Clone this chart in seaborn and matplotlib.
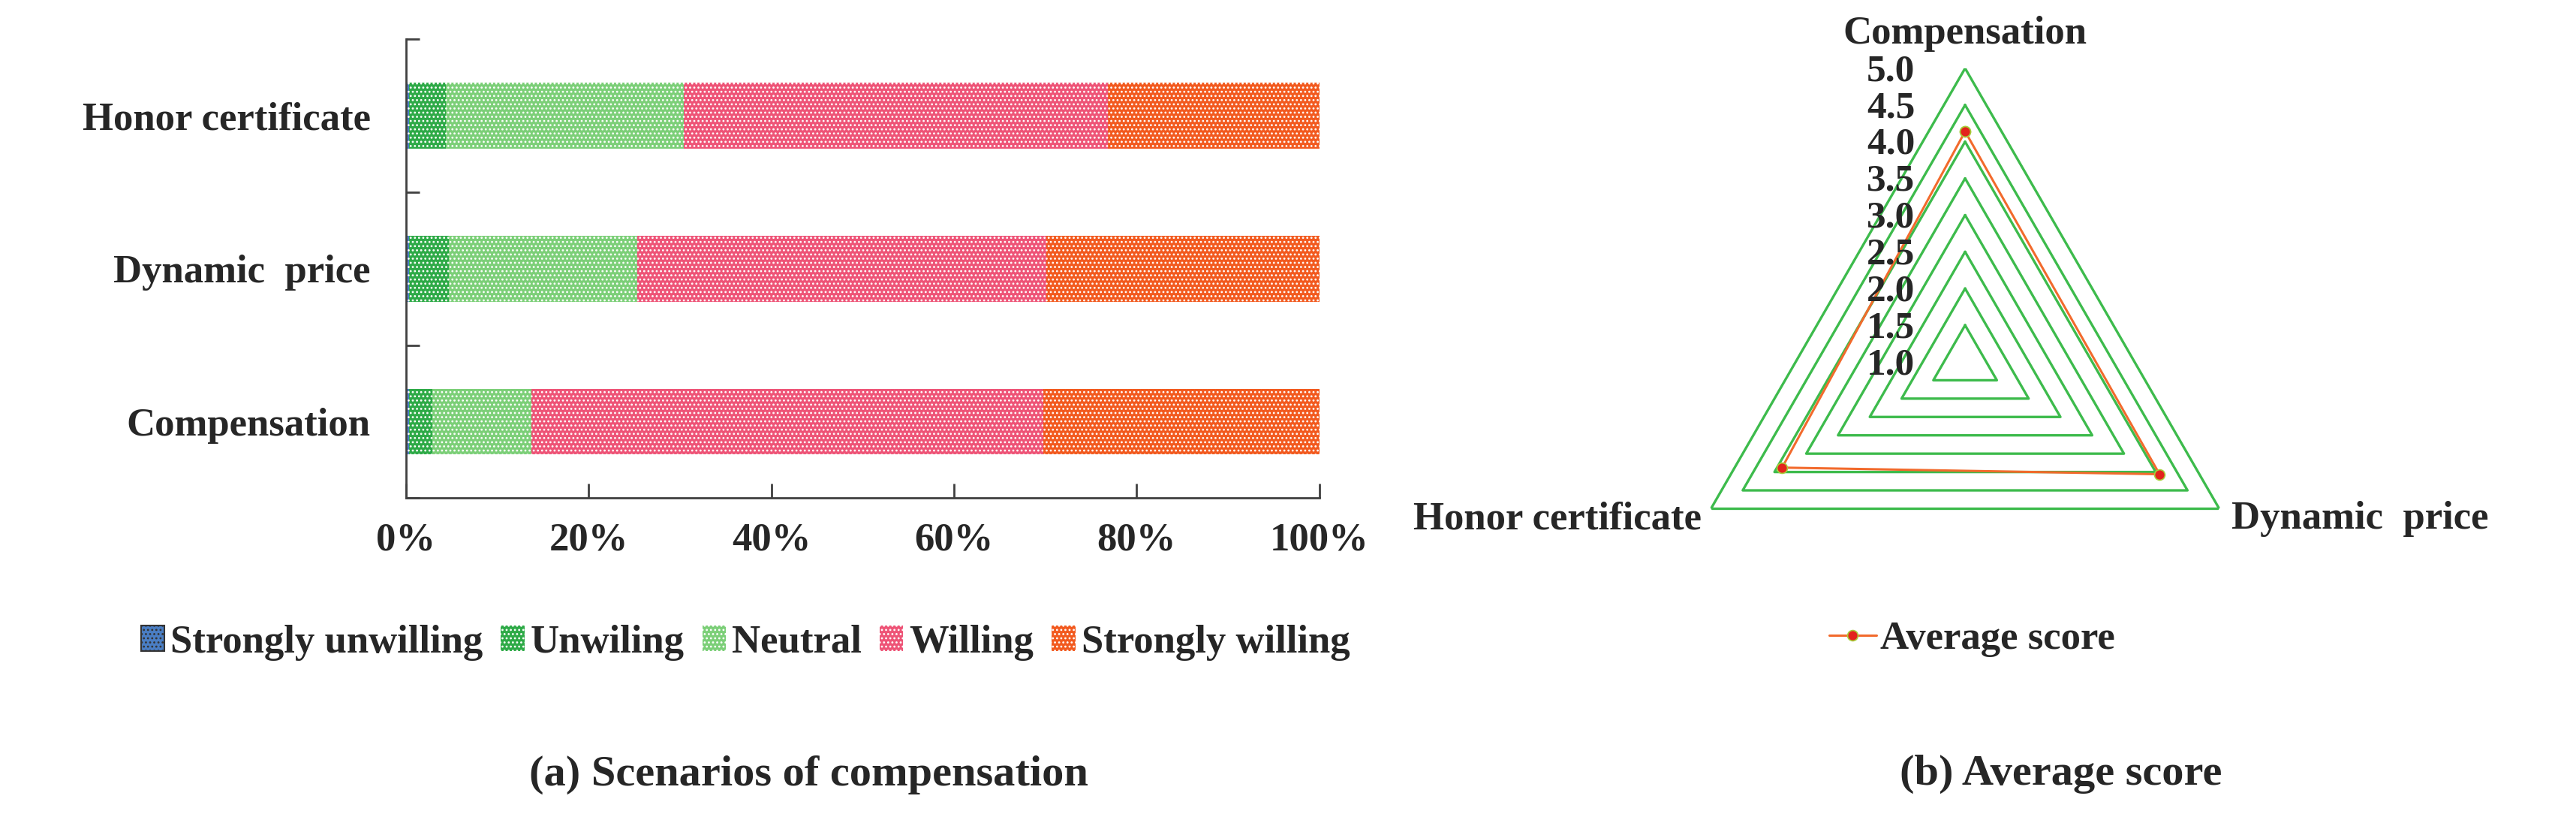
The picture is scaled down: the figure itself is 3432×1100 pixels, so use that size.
# %%
import numpy as np
import pandas as pd
import matplotlib
matplotlib.use("Agg")
import matplotlib.pyplot as plt
from matplotlib.patches import Patch
from matplotlib.lines import Line2D
from matplotlib.ticker import PercentFormatter
import seaborn as sns

# %%
# (a) share of answers for each scenario, in %
scenarios = ["Honor certificate", "Dynamic  price", "Compensation"]
levels = ["Strongly unwilling", "Unwiling", "Neutral", "Willing", "Strongly willing"]
strongly_unwilling = [0.3, 0.3, 0.3]
unwilling = [4.1, 4.4, 2.6]
neutral = [26.0, 20.6, 10.8]
willing = [46.4, 44.8, 56.1]
strongly_willing = [23.2, 29.9, 30.2]
level_colors = ["#4A7EC4", "#2EAA47", "#7CCF78", "#EE5477", "#F25A1F"]
x_ticks = [0, 20, 40, 60, 80, 100]

# (b) average score for each scenario
radar_labels = ["Compensation", "Dynamic  price", "Honor certificate"]
avg_score = [4.14, 4.06, 3.88]
ring_levels = [1.5, 2.0, 2.5, 3.0, 3.5, 4.0, 4.5, 5.0]
r_tick_labels = ["1.0", "1.5", "2.0", "2.5", "3.0", "3.5", "4.0", "4.5", "5.0"]

# %%
sns.set_theme(style="ticks")
plt.rcParams["font.family"] = ["Liberation Serif", "DejaVu Serif"]
plt.rcParams["font.weight"] = "bold"
plt.rcParams["hatch.linewidth"] = 1.2

df = pd.DataFrame({
    "scenario": scenarios,
    levels[0]: strongly_unwilling,
    levels[1]: unwilling,
    levels[2]: neutral,
    levels[3]: willing,
    levels[4]: strongly_willing,
})
cum = df[levels].cumsum(axis=1)
cum["scenario"] = df["scenario"]

fig = plt.figure(figsize=(34.32, 11), dpi=100)

# %%
# stacked bars: draw cumulative totals from the right end back to the left
ax = fig.add_axes([0.1576, 0.397, 0.3546, 0.5555])
for lev, col in reversed(list(zip(levels, level_colors))):
    sns.barplot(data=cum, x=lev, y="scenario", order=scenarios, orient="h",
                color=col, saturation=1, width=0.43, errorbar=None,
                hatch="...", edgecolor="white", linewidth=0, ax=ax)

ax.set_xlim(0, 100)
ax.set_ylim(2.5, -0.5)
ax.set_xticks(x_ticks)
ax.xaxis.set_major_formatter(PercentFormatter(decimals=0))
ax.set_yticks([-0.5, 0.5, 1.5, 2.5], minor=True)
ax.tick_params(axis="y", which="major", length=0, pad=34, labelsize=38)
ax.tick_params(axis="y", which="minor", direction="in", length=13, width=2,
               color="#404040")
ax.tick_params(axis="x", direction="in", length=14, width=2, color="#404040",
               pad=23, labelsize=38)
ax.set_xlabel("")
ax.set_ylabel("")
for s in ["top", "right"]:
    ax.spines[s].set_visible(False)
for s in ["left", "bottom"]:
    ax.spines[s].set_color("#404040")
    ax.spines[s].set_linewidth(2)

bar_handles = [Patch(facecolor=c, hatch="...", edgecolor="white", linewidth=0, label=l)
               for l, c in zip(levels, level_colors)]
bar_handles[0] = Patch(facecolor=level_colors[0], hatch="...", edgecolor="#333333",
                       linewidth=1.5, label=levels[0])
fig.legend(handles=bar_handles, loc="center", bbox_to_anchor=(0.2893, 0.222),
           ncol=5, frameon=False, fontsize=38, handlelength=0.6, handleheight=0.6,
           handletextpad=0.15, columnspacing=0.45)

fig.text(0.314, 0.062, "(a) Scenarios of compensation", ha="center", va="center",
         fontsize=42, fontweight="bold")

# %%
# radar chart
rax = fig.add_axes([0.6489, 0.2064, 0.2279, 0.7109], projection="polar")
rax.set_theta_zero_location("N")
rax.set_theta_direction(-1)
theta = np.deg2rad([0, 120, 240, 0])
for lv in ring_levels:
    rax.plot(theta, [lv] * 4, color="#3DBB4C", lw=2.4)
rax.plot(theta, avg_score + avg_score[:1], color="#F26A2C", lw=2.2, marker="o",
         ms=10, mfc="#E3241C", mec="#A8CF3A", mew=1.2)
rax.set_ylim(1, 5)
rax.grid(False)
rax.spines["polar"].set_visible(False)
rax.set_xticks([])
rax.set_yticks([])
rax.patch.set_alpha(0)

for lab, r in zip(r_tick_labels, [1.0] + ring_levels):
    rax.annotate(lab, xy=(0, r), xytext=(-48, -3), textcoords="offset points",
                 ha="right", va="center", fontsize=37, fontweight="bold")

rax.annotate(radar_labels[0], xy=(theta[0], 5), xytext=(0, 33), textcoords="offset points",
             ha="center", va="center", fontsize=38, fontweight="bold")
rax.annotate(radar_labels[1], xy=(theta[1], 5), xytext=(12, -10), textcoords="offset points",
             ha="left", va="center", fontsize=38, fontweight="bold")
rax.annotate(radar_labels[2], xy=(theta[2], 5), xytext=(-9, -10), textcoords="offset points",
             ha="right", va="center", fontsize=38, fontweight="bold")

avg_handle = Line2D([], [], color="#F26A2C", lw=2.2, marker="o", ms=10, mfc="#E3241C",
                    mec="#A8CF3A", mew=1.2, label="Average score")
fig.legend(handles=[avg_handle], loc="center", bbox_to_anchor=(0.7655, 0.226),
           frameon=False, fontsize=38, handlelength=1.2, handletextpad=0.1)

fig.text(0.800, 0.063, "(b) Average score", ha="center", va="center",
         fontsize=42, fontweight="bold")

fig.savefig("out.png", dpi=100)
